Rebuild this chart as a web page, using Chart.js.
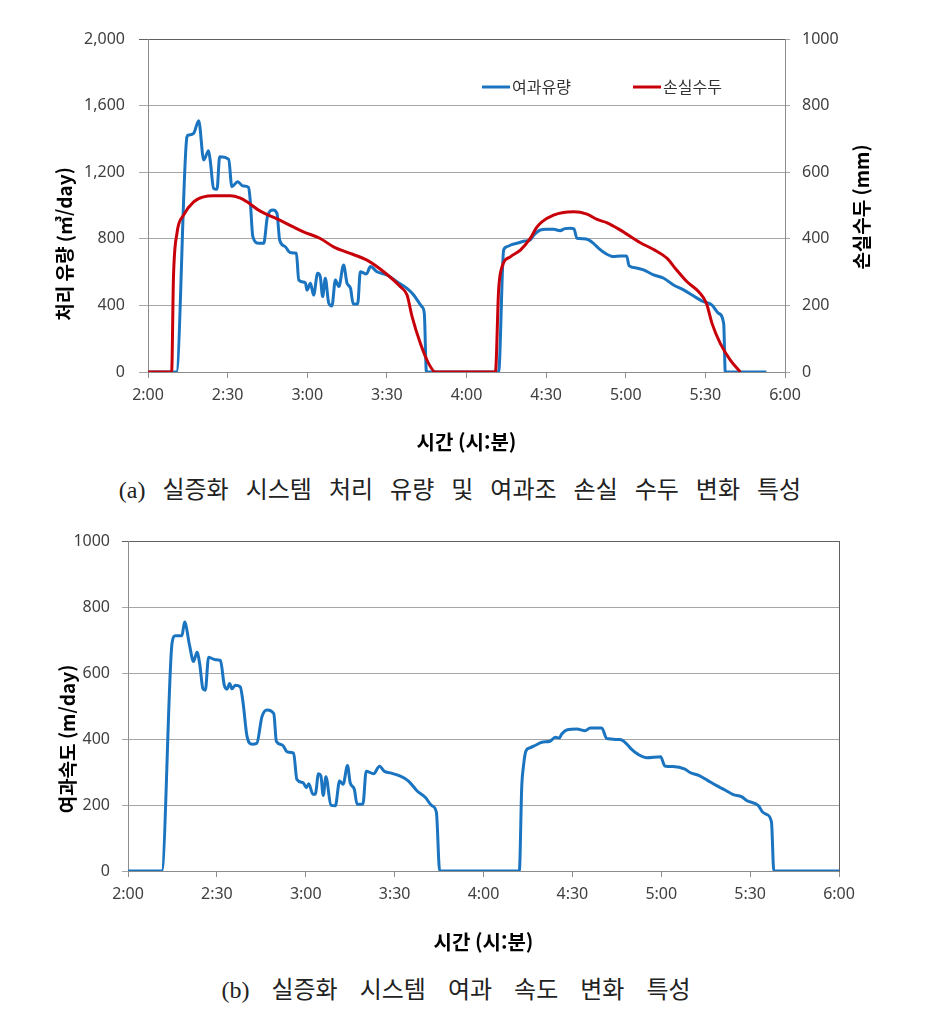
<!DOCTYPE html>
<html lang="ko">
<head>
<meta charset="utf-8">
<title>실증화 시스템 처리 유량 및 여과 속도 변화 특성</title>
<script src="https://cdn.jsdelivr.net/npm/chart.js@4.4.1/dist/chart.umd.min.js"></script>
<style>
  body { margin: 0; background: #fff; }
  #page { position: relative; width: 941px; height: 1021px; }
  canvas { position: absolute; left: 0; }
  #flowChart { top: 0; }
  #speedChart { top: 520px; }
  .caption {
    position: absolute; left: 0; width: 920px; text-align: center;
    font-family: "Liberation Serif", "Noto Sans CJK KR", serif;
    font-size: 24px; line-height: 28px; color: #222;
  }
</style>
</head>
<body>
<div id="page">
  <canvas id="flowChart" width="941" height="470"></canvas>
  <div class="caption" style="top:476px; word-spacing:11px">(a) 실증화 시스템 처리 유량 및 여과조 손실 수두 변화 특성</div>
  <canvas id="speedChart" width="941" height="450"></canvas>
  <div class="caption" style="top:976px; left:-4px; word-spacing:16px">(b) 실증화 시스템 여과 속도 변화 특성</div>
</div>
<script>
// x values are minutes after 2:00
const timeLabels = ["2:00", "2:30", "3:00", "3:30", "4:00", "4:30", "5:00", "5:30", "6:00"];

// 여과유량 (m3/day)
const flowTime = [0, 10.7, 14.7, 15.3, 17.2, 19.1, 21, 22.8, 23.5, 24.7, 26, 27, 30.4, 31.6, 33.8, 35.8, 37.9, 38.5,
  39.5, 41.7, 43.6, 45, 47.1, 48.6, 49.6, 51.7, 53.6, 55.9, 56.8, 59.3, 59.9, 61.2, 62.4, 63.9, 64.9, 65.8,
  66.8, 68.1, 69.3, 70.6, 71.9, 73.7, 75, 76.3, 77.3, 79, 80, 82.3, 83.8, 86.3, 90, 93.8, 97.6, 100.1,
  103.2, 104.1, 104.9,
  132.1, 134, 135.3, 137, 139, 141.5, 144, 145.5, 147.8, 150, 152.8, 155.3, 157, 159.1, 160.5, 161.6, 164,
  166, 168, 169.8, 172.3, 175.4, 178, 180.3, 181.3, 184, 186.7, 190.5, 194.3, 198, 201.8, 205.6, 209.3,
  212.5, 215, 216.9, 217.5, 233];
const flowValue = [0, 0, 1413, 1423, 1433, 1509, 1273, 1329, 1263, 1103, 1097, 1293, 1277, 1113, 1143, 1117, 1109, 1033,
  813, 773, 773, 933, 973, 953, 793, 753, 717, 713, 553, 536, 492, 533, 462, 593, 573, 453,
  563, 413, 397, 553, 513, 643, 533, 503, 409, 409, 602, 589, 633, 602, 583, 542, 502, 462,
  392, 352, 0,
  0, 733, 753, 765, 773, 785, 793, 825, 853, 857, 857, 849, 861, 863, 860, 803, 800,
  793, 770, 743, 713, 693, 697, 697, 637, 625, 613, 583, 563, 523, 493, 456, 422,
  402, 352, 292, 0, 0];

// 손실수두 (mm)
const headTime = [0, 8.9, 9.6, 10.9, 13.4, 17.2, 21, 24.7, 31, 34.8, 37.3, 42.3, 48.6, 54.9, 58.6, 64.9, 69.9,
  76.2, 82.5, 88.8, 95.1, 97.6, 99.5, 102.6, 105.7, 108.3,
  130.9, 132.1, 133.4, 136.5, 140.3, 144, 146.5, 148.4, 152.8, 156.5, 160.4, 165.4, 169.2, 173, 178,
  185.5, 190.5, 195.6, 198.7, 203.1, 207.5, 210.4, 212.5, 215.6, 219.4, 223.2];
const headValue = [0, 0, 286, 416, 471, 511, 526, 529, 529, 522, 511, 483, 460, 435, 421, 401, 376,
  356, 336, 301, 256, 231, 166, 86, 26, 0,
  0, 246, 316, 346, 366, 401, 435, 451, 471, 479, 481, 474, 458, 448, 426,
  388, 368, 341, 311, 271, 241, 206, 146, 86, 36, 0];

// 여과속도 (m/day)
const speedTime = [0, 11.4, 14.9, 16, 18.2, 19.1, 20.8, 22.1, 23.3, 24.2, 25.3, 26.1, 27.2, 29.5, 31.2, 32.5, 33.4,
  34.3, 35.1, 36.2, 37.9, 38.8, 40.2, 41.9, 43.5, 45.2, 46.9, 49.2, 50.1, 52, 53.9, 55.9, 57, 59.1, 60.2,
  61, 62.4, 63.2, 64.3, 65.1, 65.9, 66.8, 68.5, 70, 71.4, 72.6, 74.1, 75, 76.4, 77.3, 79.3, 80.4, 82.9,
  84.9, 86.5, 88.5, 91.9, 94.7, 97.6, 100.4, 102.6, 104.1, 105.2,
  132.1, 132.9, 133.5, 134.3, 135.7, 137.4, 139.7, 142.5, 144.2, 145.6, 146.4, 148.3, 151.5, 154.3, 156,
  159.9, 161.6, 166.1, 168.3, 170, 172.2, 175.1, 179.8, 181.2, 184, 188, 189.7, 193, 195.5, 198.7, 201.5,
  204.3, 207.1, 208.8, 212.7, 214.2, 215.5, 217.2, 218, 240];
const speedValue = [0, 0, 694, 714, 714, 756, 684, 636, 664, 629, 553, 549, 649, 641, 639, 564, 552,
  569, 553, 564, 559, 514, 408, 385, 388, 468, 489, 478, 393, 383, 361, 358, 278, 268, 253,
  265, 233, 233, 295, 289, 229, 286, 200, 198, 273, 263, 320, 268, 248, 203, 203, 303, 295,
  318, 303, 298, 288, 273, 243, 223, 198, 178, 0,
  0, 254, 319, 364, 374, 381, 391, 394, 406, 404, 416, 429, 431, 426, 434,
  434, 402, 399, 386, 369, 354, 344, 347, 319, 317, 309, 299, 289, 276, 259, 246,
  232, 226, 214, 199, 179, 172, 149, 0, 0];

const KR = '"Noto Sans CJK KR", "Noto Sans", sans-serif';
const tickFont = { family: '"Noto Sans", sans-serif', size: 16 };
const tickColor = '#404040';
const gridColor = '#a6a6a6';
const axisColor = '#8c8c8c';
const BLUE = '#1b74c0';
const RED = '#c8000a';

function points(ts, vs) {
  return ts.map((t, i) => ({ x: t, y: vs[i] }));
}

// rotated y-axis titles (both read bottom to top)
const yTitles = {
  id: 'yTitles',
  afterDraw(chart, args, opts) {
    const ctx = chart.ctx;
    opts.items.forEach(it => {
      ctx.save();
      ctx.translate(it.x, it.y);
      ctx.rotate(-Math.PI / 2);
      ctx.font = 'bold 19px ' + KR;
      ctx.fillStyle = '#000';
      ctx.textAlign = 'center';
      ctx.textBaseline = 'middle';
      ctx.fillText(it.text, 0, 0);
      ctx.restore();
    });
  }
};

// legend inside the plot area
const lineLegend = {
  id: 'lineLegend',
  afterDraw(chart, args, opts) {
    if (!opts.x) return;
    const ctx = chart.ctx;
    ctx.save();
    ctx.font = '16px ' + KR;
    ctx.textBaseline = 'middle';
    chart.data.datasets.forEach((ds, i) => {
      const x = opts.x[i];
      ctx.strokeStyle = ds.borderColor;
      ctx.lineWidth = 3;
      ctx.beginPath();
      ctx.moveTo(x, opts.y);
      ctx.lineTo(x + 28, opts.y);
      ctx.stroke();
      ctx.fillStyle = '#333';
      ctx.fillText(ds.label, x + 30, opts.y);
    });
    ctx.restore();
  }
};

function timeAxis(height, titlePad) {
  return {
    type: 'linear', min: 0, max: 240,
    afterFit: s => { s.height = height; },
    ticks: { stepSize: 30, padding: 8, color: tickColor, font: tickFont,
      callback: v => timeLabels[v / 30] },
    grid: { drawOnChartArea: false, tickLength: 6, color: axisColor },
    border: { color: axisColor },
    title: { display: true, text: '시간 (시:분)', color: '#000',
      font: { family: KR, size: 20, weight: 'bold' }, padding: { top: 0, bottom: titlePad } }
  };
}

function gridLines(max) {
  return c => (c.tick && c.tick.value === max ? '#606060' : gridColor);
}

new Chart(document.getElementById('flowChart'), {
  type: 'line',
  data: {
    datasets: [
      { label: '여과유량', data: points(flowTime, flowValue), yAxisID: 'y', order: 1,
        borderColor: BLUE, borderWidth: 3, pointRadius: 0, cubicInterpolationMode: 'monotone' },
      { label: '손실수두', data: points(headTime, headValue), yAxisID: 'y1', order: 0,
        borderColor: RED, borderWidth: 3, pointRadius: 0, cubicInterpolationMode: 'monotone' }
    ]
  },
  options: {
    responsive: false,
    animation: false,
    layout: { padding: { top: 39, left: 0, right: 0, bottom: 0 } },
    scales: {
      x: timeAxis(98, 16),
      y: {
        position: 'left', min: 0, max: 2000,
        afterFit: s => { s.width = 148; },
        ticks: { stepSize: 400, padding: 14, color: tickColor, font: tickFont,
          callback: v => v.toLocaleString('en-US') },
        grid: { color: gridLines(2000), tickLength: 9 },
        border: { color: axisColor }
      },
      y1: {
        position: 'right', min: 0, max: 1000,
        afterFit: s => { s.width = 156; },
        ticks: { stepSize: 200, padding: 12, color: tickColor, font: tickFont,
          callback: v => String(v) },
        grid: { drawOnChartArea: false, tickLength: 5, color: gridColor },
        border: { color: axisColor }
      }
    },
    plugins: {
      legend: { display: false },
      tooltip: { enabled: false },
      yTitles: { items: [
        { text: '처리 유량 (㎥/day)', x: 65, y: 244 },
        { text: '손실수두 (mm)', x: 862, y: 207 }
      ] },
      lineLegend: { x: [482, 633], y: 87 }
    }
  },
  plugins: [yTitles, lineLegend]
});

new Chart(document.getElementById('speedChart'), {
  type: 'line',
  data: {
    datasets: [
      { label: '여과속도', data: points(speedTime, speedValue), yAxisID: 'y',
        borderColor: BLUE, borderWidth: 3, pointRadius: 0, cubicInterpolationMode: 'monotone' }
    ]
  },
  options: {
    responsive: false,
    animation: false,
    layout: { padding: { top: 18, left: 0, right: 0, bottom: 0 } },
    scales: {
      x: timeAxis(99, 16),
      y: {
        position: 'left', min: 0, max: 1000,
        afterFit: s => { s.width = 128; },
        ticks: { stepSize: 200, padding: 12, color: tickColor, font: tickFont,
          callback: v => String(v) },
        grid: { color: gridLines(1000), tickLength: 6 },
        border: { color: axisColor }
      },
      y1: {
        position: 'right', min: 0, max: 1000,
        afterFit: s => { s.width = 102; },
        ticks: { display: false },
        grid: { drawOnChartArea: false, drawTicks: false },
        border: { color: '#606060' }
      }
    },
    plugins: {
      legend: { display: false },
      tooltip: { enabled: false },
      yTitles: { items: [
        { text: '여과속도 (m/day)', x: 68, y: 219 }
      ] },
      lineLegend: {}
    }
  },
  plugins: [yTitles, lineLegend]
});
</script>
</body>
</html>
